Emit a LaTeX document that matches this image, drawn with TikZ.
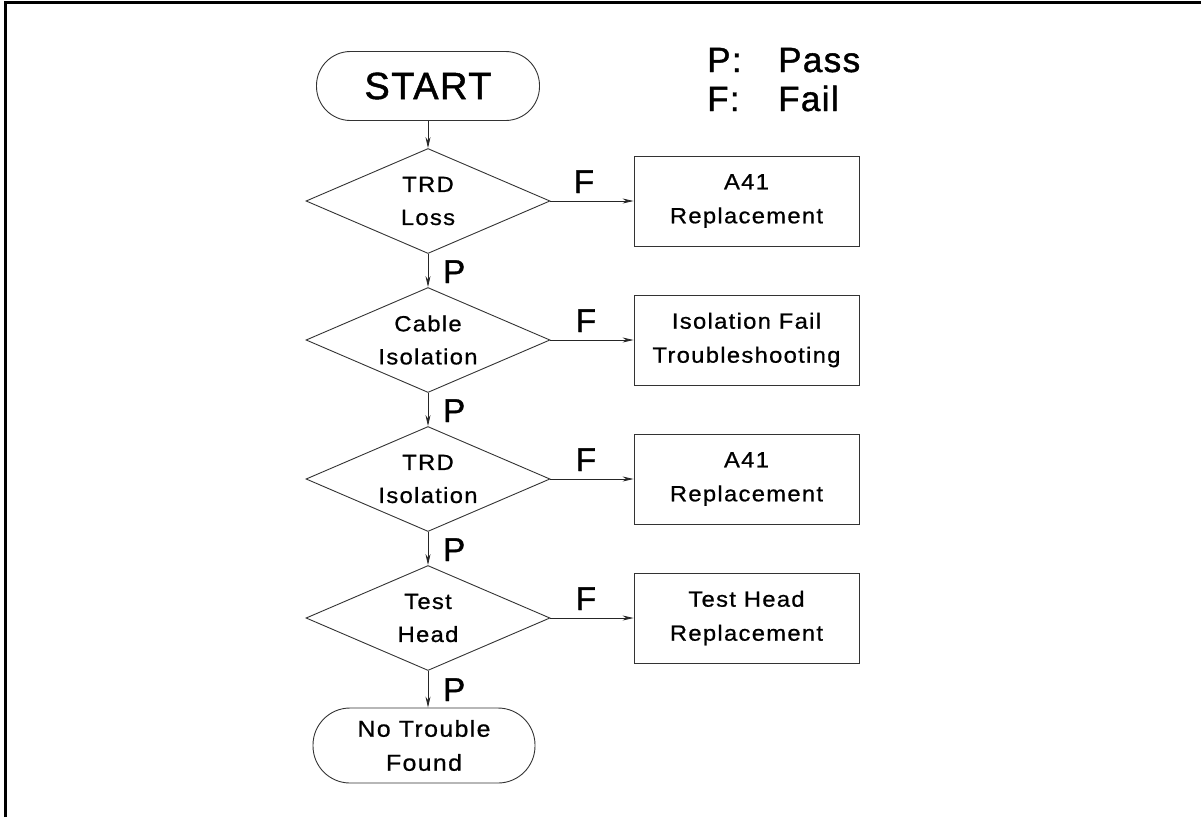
\documentclass[tikz,border=0pt]{standalone}
\usepackage{fontspec}
\setmainfont{Liberation Sans}
\newfontfamily\plotfont[LetterSpace=6,FakeStretch=1.08,FakeBold=0.8]{Liberation Sans}
\newfontfamily\bigfont[LetterSpace=4,FakeBold=1.2]{Liberation Sans}
\usetikzlibrary{arrows.meta,positioning,shapes.geometric}
\tikzset{
  termbox/.style={draw=black!80, line width=0.9pt, rounded corners=34pt,
                  minimum width=223pt, minimum height=69pt, inner sep=0pt, align=center},
  testbox/.style={draw=black!80, line width=0.9pt, diamond, aspect=2.32,
                  minimum width=244pt, minimum height=105pt, inner sep=0pt, align=center,
                  font=\plotfont\fontsize{22}{33}\selectfont},
  fixbox/.style={draw=black!80, line width=0.9pt, minimum width=225pt,
                 minimum height=90pt, inner sep=0pt, align=center,
                 font=\plotfont\fontsize{22}{34}\selectfont},
  arr/.style={-{Stealth[length=11pt,width=5pt]}, line width=0.8pt, draw=black!85},
  pflbl/.style={font=\bigfont\fontsize{33}{36}\selectfont, inner sep=0pt},
  keylbl/.style={font=\bigfont\fontsize{35}{38}\selectfont, inner sep=0pt, anchor=base west}}

\begin{document}
\begin{tikzpicture}[x=1pt,y=-1pt]
  \useasboundingbox (0,0) rectangle (1201,817);
  % frame
  \draw[line width=3pt] (5.5,817) -- (5.5,2.5) -- (1201,2.5);

  % key
  \node[keylbl] (pkey) at (707,72) {P:};
  \node[keylbl] (pass) at (778,72) {Pass};
  \node[keylbl] (fkey) at (707,111) {F:};
  \node[keylbl] (fail) at (778,111) {Fail};

  % main column
  \node[termbox, font=\bigfont\fontsize{38}{40}\selectfont] (start) at (428,86) {START};
  \node[testbox] (trdloss) at (428,201) {TRD\\Loss};
  \node[testbox] (cableiso) at (428,340) {Cable\\Isolation};
  \node[testbox] (trdiso) at (428,479) {TRD\\Isolation};
  \node[testbox] (testhead) at (428,618) {Test\\Head};
  \node[termbox, minimum width=222pt, minimum height=75pt, rounded corners=37pt,
        font=\plotfont\fontsize{23}{34}\selectfont] (ntf) at (424,745.5) {No Trouble\\Found};

  % repair boxes
  \node[fixbox] (fixa) at (746.5,201) {A41\\Replacement};
  \node[fixbox] (fixb) at (746.5,340) {Isolation Fail\\Troubleshooting};
  \node[fixbox] (fixc) at (746.5,479) {A41\\Replacement};
  \node[fixbox] (fixd) at (746.5,618) {Test Head\\Replacement};

  % pass path
  \draw[arr] (start.south -| trdloss.north) -- (trdloss.north);
  \draw[arr] (trdloss.south) -- (cableiso.north);
  \draw[arr] (cableiso.south) -- (trdiso.north);
  \draw[arr] (trdiso.south) -- (testhead.north);
  \draw[arr] (testhead.south) -- (testhead.south |- ntf.north);

  % fail path
  \draw[arr] (trdloss.east) -- (fixa.west);
  \draw[arr] (cableiso.east) -- (fixb.west);
  \draw[arr] (trdiso.east) -- (fixc.west);
  \draw[arr] (testhead.east) -- (fixd.west);

  % P / F marks
  \node[pflbl, anchor=base west] (p1) at (443,283) {P};
  \node[pflbl, anchor=base west] (p2) at (443,422) {P};
  \node[pflbl, anchor=base west] (p3) at (443,561) {P};
  \node[pflbl, anchor=base west] (p4) at (443,701) {P};
  \node[pflbl, anchor=base] (f1) at (584,193) {F};
  \node[pflbl, anchor=base] (f2) at (586,332) {F};
  \node[pflbl, anchor=base] (f3) at (586,471) {F};
  \node[pflbl, anchor=base] (f4) at (586,610) {F};
\end{tikzpicture}
\end{document}
